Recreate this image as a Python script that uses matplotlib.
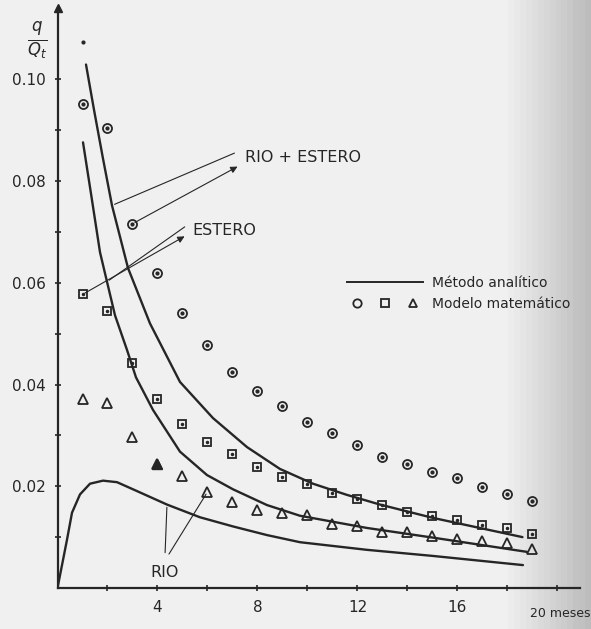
import numpy as np
import matplotlib
matplotlib.use("Agg")
import matplotlib.pyplot as plt
from matplotlib.lines import Line2D
from matplotlib.legend_handler import HandlerTuple

# --- data (x in months, y = q/Qt) ---
months = list(range(1, 20))

# Modelo matemático: circles (RIO + ESTERO), squares (ESTERO), triangles (RIO)
circles = [0.0952, 0.0905, 0.0716, 0.0619, 0.0540, 0.0477, 0.0424, 0.0388, 0.0358,
           0.0326, 0.0304, 0.0282, 0.0258, 0.0244, 0.0228, 0.0216, 0.0198, 0.0185, 0.0171]
squares = [0.0577, 0.0545, 0.0443, 0.0372, 0.0322, 0.0287, 0.0263, 0.0237, 0.0219,
           0.0204, 0.0186, 0.0174, 0.0164, 0.0150, 0.0142, 0.0133, 0.0123, 0.0117, 0.0106]
triangles = [0.0371, 0.0363, 0.0296, 0.0244, 0.0220, 0.0189, 0.0170, 0.0154, 0.0147,
             0.0143, 0.0125, 0.0121, 0.0111, 0.0110, 0.0102, 0.0096, 0.0093, 0.0089, 0.0077]
stray_x = [1.02]
stray_y = [0.1074]

# Método analítico curves
rio_estero_x = [1.14, 1.46, 1.82, 2.18, 2.82, 3.7, 4.9, 6.22, 7.58, 8.9, 10.22, 11.58, 12.9, 15.0, 18.6]
rio_estero_y = [0.1029, 0.0940, 0.0844, 0.0752, 0.0629, 0.0520, 0.0405, 0.0334, 0.0277,
                0.0234, 0.0205, 0.0183, 0.0164, 0.0138, 0.0100]
estero_x = [1.02, 1.35, 1.7, 1.98, 2.3, 2.78, 3.14, 3.82, 4.9, 5.98, 7.02, 8.38, 9.7, 12.38, 15.02, 18.78]
estero_y = [0.0876, 0.0772, 0.0660, 0.0602, 0.0536, 0.0468, 0.0414, 0.0350, 0.0268, 0.0222,
            0.0194, 0.0163, 0.0142, 0.0118, 0.0099, 0.0071]
rio_x = [0, 0.38, 0.58, 0.9, 1.3, 1.82, 2.38, 3.02, 4.38, 5.7, 7.02, 8.38, 9.7, 12.38, 15.02, 18.62]
rio_y = [0, 0.0095, 0.0148, 0.0184, 0.0205, 0.0211, 0.0208, 0.0194, 0.0164, 0.0139,
         0.0121, 0.0104, 0.0090, 0.0075, 0.0063, 0.0045]

xticks = [2, 4, 6, 8, 10, 12, 14, 16, 18, 20]
xticklabels = ["", "4", "", "8", "", "12", "", "16", "", ""]
yticks = [0.01, 0.02, 0.03, 0.04, 0.05, 0.06, 0.07, 0.08, 0.09, 0.10]
yticklabels = ["", "0.02", "", "0.04", "", "0.06", "", "0.08", "", "0.10"]

INK = "#262626"

fig = plt.figure(figsize=(5.91, 6.29), dpi=100)

# scanned-paper background: light grey, shading towards the right edge
bg = fig.add_axes([0, 0, 1, 1], zorder=-2)
grad = np.concatenate([np.full(85, 0.94), np.linspace(0.94, 0.74, 15)])
bg.imshow(grad[np.newaxis, :], aspect="auto", cmap="gray", vmin=0, vmax=1,
          extent=[0, 1, 0, 1])
bg.axis("off")

ax = fig.add_axes([0.0973, 0.0652, 0.884, 0.922])
ax.set_facecolor("none")
ax.set_xlim(0, 20.9)
ax.set_ylim(0, 0.114)

# analytic curves
for cx, cy in [(rio_estero_x, rio_estero_y), (estero_x, estero_y), (rio_x, rio_y)]:
    ax.plot(cx, cy, color=INK, lw=1.7, solid_capstyle="round", solid_joinstyle="round")

# model points
ax.plot(months, circles, "o", ms=6.5, mfc="none", mec=INK, mew=1.3)
ax.plot(months, circles, ".", ms=4, color=INK)
ax.plot(months, squares, "s", ms=6, mfc="none", mec=INK, mew=1.3)
ax.plot(months, squares, ".", ms=3, color=INK)
ax.plot(months, triangles, "^", ms=6.5, mfc="none", mec=INK, mew=1.3)
ax.plot(months[3], triangles[3], "^", ms=6.5, color=INK)
ax.plot(stray_x, stray_y, ".", ms=4, color=INK)

# callouts
thin = dict(arrowstyle="-", color=INK, lw=0.8)
arrow = dict(arrowstyle="-|>", color=INK, lw=0.8, mutation_scale=10)
ax.text(7.5, 0.0847, "RIO + ESTERO", fontsize=11.5, color=INK, va="center")
ax.annotate("", xy=(7.18, 0.0857), xytext=(rio_estero_x[3], rio_estero_y[3]), arrowprops=thin)
ax.annotate("", xy=(7.3, 0.0831), xytext=(months[2], circles[2]), arrowprops=arrow)
ax.text(5.4, 0.0703, "ESTERO", fontsize=11.5, color=INK, va="center")
ax.annotate("", xy=(5.18, 0.0713), xytext=(estero_x[3], estero_y[3]), arrowprops=thin)
ax.annotate("", xy=(5.18, 0.0694), xytext=(months[0], squares[0]), arrowprops=arrow)
ax.text(4.3, 0.0031, "RIO", fontsize=11.5, color=INK, ha="center", va="center")
ax.annotate("", xy=(months[5], triangles[5]), xytext=(4.4, 0.0062), arrowprops=thin)
ax.annotate("", xy=(rio_x[8], rio_y[8]), xytext=(4.3, 0.0064), arrowprops=thin)

# legend: line row + three-marker row
h_line = Line2D([], [], color=INK, lw=1.4)
h_c = Line2D([], [], marker="o", ls="none", ms=6, mfc="none", mec=INK, mew=1.3)
h_s = Line2D([], [], marker="s", ls="none", ms=5.5, mfc="none", mec=INK, mew=1.3)
h_t = Line2D([], [], marker="^", ls="none", ms=6, mfc="none", mec=INK, mew=1.3)
ax.legend([h_line, (h_c, h_s, h_t)], ["Método analítico", "Modelo matemático"],
          handler_map={tuple: HandlerTuple(ndivide=None, pad=0.6)},
          loc="upper left", bbox_to_anchor=(0.53, 0.56), frameon=False,
          fontsize=10, handlelength=5.5, handletextpad=0.6, labelspacing=0.5,
          labelcolor=INK)

# axes styling
for side in ("top", "right"):
    ax.spines[side].set_visible(False)
for side in ("left", "bottom"):
    ax.spines[side].set_color(INK)
    ax.spines[side].set_linewidth(1.6)
ax.plot(0, 1, "^", ms=6, color=INK, transform=ax.transAxes, clip_on=False)

ax.set_xticks(xticks)
ax.set_xticklabels(xticklabels)
ax.set_yticks(yticks)
ax.set_yticklabels(yticklabels)
ax.tick_params(direction="inout", length=5, width=1.2, color=INK,
               labelsize=11, labelcolor=INK, pad=6)
ax.text(18.9, -0.0038, "20 meses", fontsize=9, color=INK, va="top", ha="left")

fig.text(0.063, 0.935, r"$\frac{q}{Q_t}$", fontsize=17, color=INK,
         ha="center", va="center")

fig.savefig("out.png", dpi=100)
